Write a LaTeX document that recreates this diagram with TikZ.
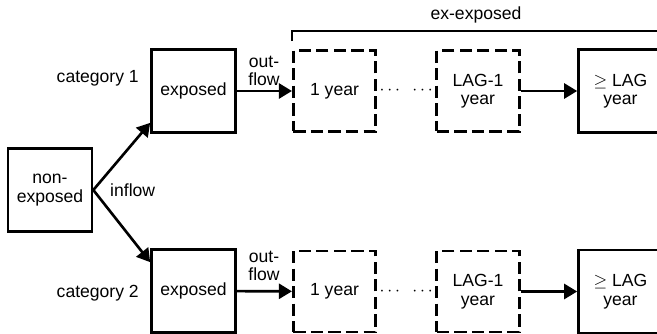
\documentclass[tikz,border=0pt]{standalone}
\usepackage{fontspec}
\setmainfont{Liberation Sans}
\usepackage{tikz}
\usetikzlibrary{arrows.meta,calc}

\begin{document}
\begin{tikzpicture}[x=0.2mm,y=-0.2mm,font={\fontsize{10}{10.5}\selectfont},>={Triangle[length=2.6mm,width=3mm]},
  box/.style={draw,line width=1.5pt,align=center,inner sep=0pt,minimum width=16.8mm,minimum height=16.6mm},
  dbox/.style={box,minimum width=16.5mm,minimum height=16.2mm,dash pattern=on 7pt off 3pt},
  flow/.style={->,line width=1.5pt}]
\useasboundingbox (0,0) rectangle (657,334);
% states
\node[box] (nonexp) at (50,190) {non-\\exposed};
\node[box] (expA) at (193.5,91) {exposed};
\node[box] (expB) at (193.5,291) {exposed};
\node[dbox] (yrA) at (334.5,91) {1 year};
\node[dbox] (lagA) at (478,91) {LAG-1\\year};
\node[box] (geA) at (620.5,91) {$\geq$ LAG\\year};
\node[dbox] (yrB) at (334.5,291.5) {1 year};
\node[dbox] (lagB) at (478,291.5) {LAG-1\\year};
\node[box] (geB) at (620.5,291.5) {$\geq$ LAG\\year};
\node (dotsA) at ($(yrA.east)!0.5!(lagA.west)$) {$\cdots$\hspace{7pt}$\cdots$};
\node (dotsB) at ($(yrB.east)!0.5!(lagB.west)$) {$\cdots$\hspace{7pt}$\cdots$};
% labels
\node[anchor=east] (catA) at (145,78) {category 1};
\node[anchor=east] (catB) at (145,293) {category 2};
\node[align=center] (outA) at (264,71) {out-\\flow};
\node[align=center] (outB) at (264,266) {out-\\flow};
\node[anchor=west] (inflow) at (104,190) {inflow};
\node (exexp) at (476,15) {ex-exposed};
% bracket over the ex-exposed states
\coordinate (brR) at (657,31);
\draw[line width=1.2pt] ([yshift=1.6mm]yrA.north west) |- (brR);
% flows
\draw[flow] (nonexp.east) -- ([yshift=2.2mm]expA.south west);
\draw[flow] (nonexp.east) -- ([yshift=-2.8mm]expB.north west);
\draw[flow] (expA) -- (yrA);
\draw[flow] (expB) -- (yrB);
\draw[flow] (lagA) -- (geA);
\draw[flow] (lagB) -- (geB);
\end{tikzpicture}
\end{document}
